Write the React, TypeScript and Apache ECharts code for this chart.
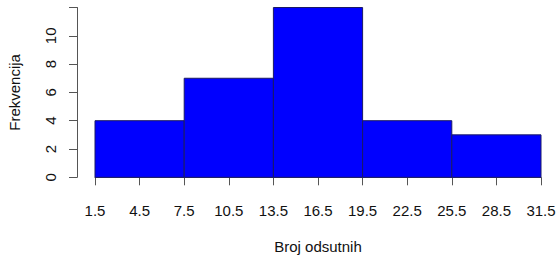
import React, { useEffect, useRef } from "react";
import * as echarts from "echarts";

const binEdges = [1.5, 7.5, 13.5, 19.5, 25.5, 31.5];
const counts = [4, 7, 12, 4, 3];
const xTicks = [1.5, 4.5, 7.5, 10.5, 13.5, 16.5, 19.5, 22.5, 25.5, 28.5, 31.5];
const yTicks = [0, 2, 4, 6, 8, 10];
const xTitle = "Broj odsutnih";
const yTitle = "Frekvencija";

export default function App() {
  const ref = useRef<HTMLDivElement>(null);
  useEffect(() => {
    document.body.style.margin = "0";
    if (!ref.current) return;
    const chart = echarts.init(ref.current, undefined, { renderer: "svg" });
    const data = counts.map((c, i) => [binEdges[i], binEdges[i + 1], c]);
    const font = "'Liberation Sans', Arial, sans-serif";
    chart.setOption({
      animation: false,
      backgroundColor: "#ffffff",
      grid: { left: 95, right: 16, top: 7.5, bottom: 77.7, containLabel: false, outerBoundsMode: "none" },
      xAxis: {
        type: "value",
        min: binEdges[0],
        max: binEdges[binEdges.length - 1],
        offset: 7,
        splitLine: { show: false },
        axisLine: { show: true, lineStyle: { color: "#555", width: 1 } },
        axisTick: { show: true, length: 8, customValues: xTicks, lineStyle: { color: "#555" } },
        axisLabel: {
          customValues: xTicks,
          formatter: (v: number) => String(v),
          color: "#111",
          fontSize: 15,
          fontFamily: font,
          margin: 19,
          showMinLabel: true,
          showMaxLabel: true,
        },
        name: xTitle,
        nameLocation: "middle",
        nameGap: 55,
        nameTextStyle: { color: "#111", fontSize: 15, fontFamily: font },
      },
      yAxis: {
        type: "value",
        min: 0,
        max: 12,
        interval: 2,
        offset: 18,
        splitLine: { show: false },
        axisLine: { show: true, lineStyle: { color: "#555", width: 1 } },
        axisTick: { show: true, length: 8, lineStyle: { color: "#555" } },
        axisLabel: {
          rotate: 90,
          color: "#111",
          fontSize: 15,
          fontFamily: font,
          margin: 19,
          formatter: (v: number) => (yTicks.includes(v) ? String(v) : ""),
        },
        name: yTitle,
        nameLocation: "middle",
        nameGap: 55,
        nameTextStyle: { color: "#111", fontSize: 15, fontFamily: font },
      },
      series: [
        {
          type: "custom",
          data,
          encode: { x: [0, 1], y: 2 },
          renderItem: (params: any, api: any) => {
            const p0 = api.coord([api.value(0), 0]);
            const p1 = api.coord([api.value(1), api.value(2)]);
            return {
              type: "rect",
              shape: { x: p0[0], y: p1[1], width: p1[0] - p0[0], height: p0[1] - p1[1] },
              style: { fill: "#0000ff", stroke: "#1a1a66", lineWidth: 1 },
            };
          },
        },
      ],
    });
    return () => chart.dispose();
  }, []);
  return <div ref={ref} style={{ width: 557, height: 255 }} />;
}
